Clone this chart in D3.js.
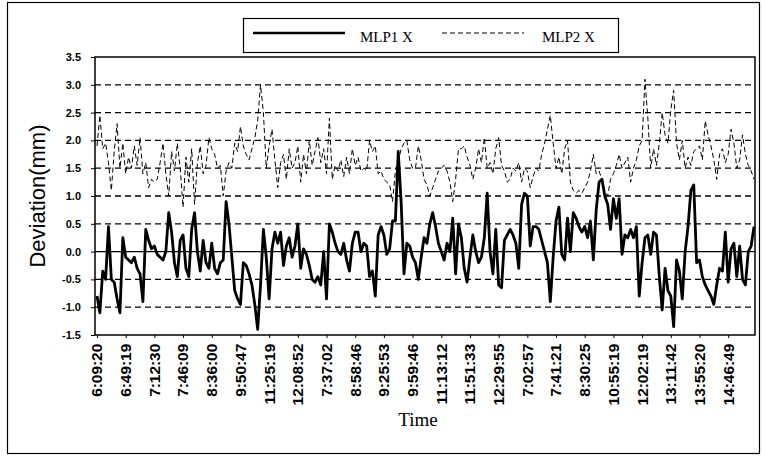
<!DOCTYPE html>
<html>
<head>
<meta charset="utf-8">
<script src="https://cdn.jsdelivr.net/npm/d3@7"></script>
<style>
  html, body { margin: 0; padding: 0; background: #fff; }
  svg { display: block; }
</style>
</head>
<body>
<script>
(function () {
  // every 10th sample gets a time label
  const timeLabels = ['6:09:20', '6:49:19', '7:12:30', '7:46:09', '8:36:00', '9:50:47', '11:25:19', '12:08:52',
    '7:37:02', '8:58:46', '9:25:53', '9:59:46', '11:13:12', '11:51:33', '12:29:55', '7:02:57', '7:41:21',
    '8:30:25', '10:55:19', '12:02:19', '13:11:42', '13:55:20', '14:46:49'];
  const labelEvery = 10;

  const yTicks = [-1.5, -1.0, -0.5, 0.0, 0.5, 1.0, 1.5, 2.0, 2.5, 3.0, 3.5];

  const seriesNames = ['MLP1 X', 'MLP2 X'];

  const mlp1 = [
    -0.8, -1.1, -0.35, -0.5, 0.45, -0.5, -0.55, -0.85, -1.1, 0.25,
    -0.1, -0.15, -0.2, -0.1, -0.3, -0.4, -0.9, 0.4, 0.2, 0.05,
    0.1, -0.05, -0.1, -0.15, 0.0, 0.7, 0.35, -0.2, -0.45, 0.2,
    0.3, -0.3, -0.45, 0.4, 0.7, 0.0, -0.35, 0.2, -0.2, -0.3,
    0.15, -0.3, -0.4, -0.2, -0.15, 0.9, 0.5, -0.1, -0.7, -0.85,
    -0.95, -0.2, -0.25, -0.4, -0.6, -0.95, -1.4, -0.6, 0.4, -0.1,
    -0.85, 0.05, 0.35, 0.15, 0.35, -0.25, 0.1, 0.25, -0.1, 0.1,
    0.5, -0.3, 0.05, -0.05, -0.25, -0.5, -0.55, -0.45, -0.6, 0.0,
    -0.85, 0.5, 0.35, 0.15, 0.0, -0.05, 0.15, -0.15, -0.35, 0.15,
    0.35, 0.35, 0.0, 0.15, 0.1, -0.45, -0.35, -0.8, 0.3, 0.45,
    0.3, -0.05, 0.05, 0.55, 0.55, 1.8, 0.9, -0.4, 0.15, 0.1,
    -0.1, -0.2, -0.5, -0.1, 0.25, 0.15, 0.5, 0.7, 0.45, 0.15,
    0.0, -0.15, 0.15, 0.0, 0.6, -0.4, 0.5, 0.25, -0.3, -0.55,
    -0.1, 0.3, 0.0, -0.2, -0.1, 0.25, 1.05, 0.0, -0.4, 0.4,
    -0.6, -0.65, 0.2, 0.3, 0.4, 0.3, 0.15, -0.3, 0.85, 1.05,
    1.0, 0.1, 0.45, 0.45, 0.4, 0.2, 0.0, -0.2, -0.9, -0.1,
    0.55, 0.8, -0.05, -0.15, 0.6, 0.0, 0.7, 0.6, 0.45, 0.35,
    0.45, 0.25, 0.55, -0.15, 0.75, 1.25, 1.3, 1.0, 0.85, 0.4,
    0.95, 0.6, 0.95, -0.05, 0.3, 0.25, 0.4, 0.25, 0.45, -0.8,
    -0.2, 0.25, 0.3, -0.05, 0.35, 0.3, -0.45, -1.05, -0.3, -0.7,
    -0.8, -1.35, -0.15, -0.35, -0.85, 0.0, 0.45, 1.1, 1.2, -0.2,
    -0.15, -0.45, -0.6, -0.7, -0.8, -0.95, -0.6, -0.3, -0.35, 0.35,
    -0.55, 0.05, 0.15, -0.45, 0.1, -0.5, -0.6, 0.0, 0.1, 0.45
  ];

  const mlp2 = [
    1.9, 2.45, 1.85, 1.95, 1.6, 1.1, 1.8, 2.3, 1.5, 1.95,
    1.4, 1.7, 1.5, 1.9, 1.55, 2.05, 1.4, 1.6, 1.15, 1.3,
    1.25, 1.3, 1.6, 1.95, 1.4, 1.0, 1.8, 1.45, 1.95, 1.5,
    0.8, 1.7, 1.25, 1.85, 0.85, 1.6, 1.9, 1.4, 1.55, 2.05,
    1.85, 1.75, 1.5, 1.55, 1.0, 1.45, 1.6, 1.5, 1.95, 1.8,
    2.25, 1.9, 1.75, 1.65, 1.85, 2.05, 2.35, 3.0, 2.5, 1.5,
    1.9, 2.2, 1.65, 1.15, 1.6, 1.75, 1.3, 1.85, 1.5, 1.6,
    1.9, 1.25, 1.75, 1.4, 2.0, 1.55, 1.8, 2.05, 1.6, 1.85,
    1.4, 2.4, 1.3, 1.55, 1.45, 1.65, 1.35, 1.7, 1.4, 1.85,
    1.55, 1.7, 1.45, 1.5, 1.45, 2.0, 1.8, 1.9, 1.4, 1.45,
    1.3, 1.25, 1.2, 0.9, 1.45, 1.6, 1.85, 1.95, 2.0, 1.65,
    1.5, 1.5, 1.9, 1.65, 1.3, 1.2, 1.0, 1.15, 1.3, 1.45,
    1.5, 1.55, 1.45, 1.25, 0.9, 1.3, 1.85, 1.85, 1.9, 1.7,
    1.55, 1.3, 1.5, 1.85, 1.6, 2.05, 1.5, 1.6, 1.4, 1.85,
    2.05, 1.55, 1.45, 1.25, 1.3, 1.5, 1.45, 1.6, 1.25, 1.5,
    1.45, 1.15, 1.35, 1.5, 1.45, 1.75, 1.95, 2.2, 2.45, 1.95,
    1.5, 1.7, 1.4, 1.85, 2.0, 1.25, 1.1, 1.05, 1.1, 1.05,
    1.15, 1.25, 1.45, 1.75, 1.4, 1.45, 1.3, 1.1, 1.0, 1.3,
    1.4, 1.55, 1.75, 1.5, 1.6, 1.7, 1.25, 1.5, 1.65, 1.9,
    2.0, 3.1, 2.4, 1.5, 1.85, 1.55, 1.95, 2.5, 2.1, 1.95,
    2.55, 2.9, 1.95, 1.65, 2.0, 1.5, 1.7, 1.55, 1.8, 1.85,
    1.9, 1.65, 2.35, 2.1, 1.9, 1.65, 1.3, 1.75, 1.85, 1.6,
    1.75, 2.2, 1.95, 1.5, 1.65, 2.1, 1.75, 1.55, 1.45, 1.3
  ];

  const width = 767;
  const height = 460;
  const plot = { left: 95, right: 755, top: 57, bottom: 335 };

  const svg = d3.select('body').append('svg')
    .attr('width', width)
    .attr('height', height);

  // outer chart frame
  svg.append('rect')
    .attr('x', 7.5).attr('y', 2.5)
    .attr('width', 752).attr('height', 451)
    .attr('fill', 'none')
    .attr('stroke', '#000')
    .attr('stroke-width', 1.2);

  const x = d3.scalePoint()
    .domain(d3.range(mlp1.length))
    .range([97, 754]);

  const y = d3.scaleLinear()
    .domain([-1.5, 3.5])
    .range([plot.bottom, plot.top]);

  // grid
  svg.append('g')
    .selectAll('line')
    .data(yTicks.filter(v => v > -1.5 && v < 3.5))
    .enter()
    .append('line')
    .attr('x1', plot.left).attr('x2', plot.right)
    .attr('y1', d => y(d)).attr('y2', d => y(d))
    .attr('stroke', '#000')
    .attr('stroke-width', 1.3)
    .attr('stroke-dasharray', d => d === 0 ? null : '6,4');

  // y axis
  const yAxis = svg.append('g')
    .attr('transform', `translate(${plot.left},0)`)
    .call(d3.axisLeft(y)
      .tickValues(yTicks)
      .tickFormat(d => d.toFixed(1))
      .tickSize(4)
      .tickPadding(10));
  yAxis.select('.domain').remove();
  yAxis.selectAll('line').attr('stroke', '#000');
  yAxis.selectAll('text')
    .attr('fill', '#000')
    .style('font-family', '"Liberation Sans", Arial, sans-serif')
    .style('font-size', '11px')
    .style('font-weight', 'bold');

  // x axis
  const xAxis = svg.append('g')
    .attr('transform', `translate(0,${plot.bottom})`)
    .call(d3.axisBottom(x)
      .tickValues(d3.range(0, mlp1.length, labelEvery))
      .tickFormat(i => timeLabels[i / labelEvery])
      .tickSize(3));
  xAxis.select('.domain').remove();
  xAxis.selectAll('line').attr('stroke', '#000');
  xAxis.selectAll('text')
    .attr('fill', '#000')
    .attr('x', -8)
    .attr('y', 0)
    .attr('dy', '0.35em')
    .attr('text-anchor', 'end')
    .attr('transform', 'rotate(-90) scale(1.1,1)')
    .style('font-family', '"Liberation Sans", Arial, sans-serif')
    .style('font-size', '14px')
    .style('font-weight', 'bold');

  const line = d3.line()
    .x((d, i) => x(i))
    .y(d => y(d));

  svg.append('path')
    .datum(mlp2)
    .attr('fill', 'none')
    .attr('stroke', '#000')
    .attr('stroke-width', 1)
    .attr('stroke-dasharray', '5,3')
    .attr('d', line);

  svg.append('path')
    .datum(mlp1)
    .attr('fill', 'none')
    .attr('stroke', '#000')
    .attr('stroke-width', 2.8)
    .attr('stroke-linejoin', 'round')
    .attr('d', line);

  // plot frame
  svg.append('rect')
    .attr('x', plot.left).attr('y', plot.top)
    .attr('width', plot.right - plot.left)
    .attr('height', plot.bottom - plot.top)
    .attr('fill', 'none')
    .attr('stroke', '#000')
    .attr('stroke-width', 1.5);

  // axis titles
  svg.append('text')
    .attr('transform', 'translate(45,196) rotate(-90)')
    .attr('text-anchor', 'middle')
    .style('font-family', '"Liberation Sans", Arial, sans-serif')
    .style('font-size', '22px')
    .text('Deviation(mm)');

  svg.append('text')
    .attr('x', 418).attr('y', 426)
    .attr('text-anchor', 'middle')
    .style('font-family', '"Liberation Serif", "Times New Roman", serif')
    .style('font-size', '19px')
    .text('Time');

  // legend
  const legend = svg.append('g');
  legend.append('rect')
    .attr('x', 243.5).attr('y', 18.5)
    .attr('width', 375).attr('height', 34)
    .attr('fill', '#fff')
    .attr('stroke', '#000')
    .attr('stroke-width', 1.2);

  const legendItems = [
    { name: seriesNames[0], x1: 253, x2: 345, tx: 360, width: 2.4, dash: null },
    { name: seriesNames[1], x1: 442, x2: 524, tx: 542, width: 1, dash: '5,3' }
  ];
  legend.selectAll('line')
    .data(legendItems)
    .enter()
    .append('line')
    .attr('x1', d => d.x1).attr('x2', d => d.x2)
    .attr('y1', 33).attr('y2', 33)
    .attr('stroke', '#000')
    .attr('stroke-width', d => d.width)
    .attr('stroke-dasharray', d => d.dash);
  legend.selectAll('text')
    .data(legendItems)
    .enter()
    .append('text')
    .attr('x', d => d.tx).attr('y', 42)
    .style('font-family', '"Liberation Serif", "Times New Roman", serif')
    .style('font-size', '15px')
    .text(d => d.name);
})();
</script>
</body>
</html>
